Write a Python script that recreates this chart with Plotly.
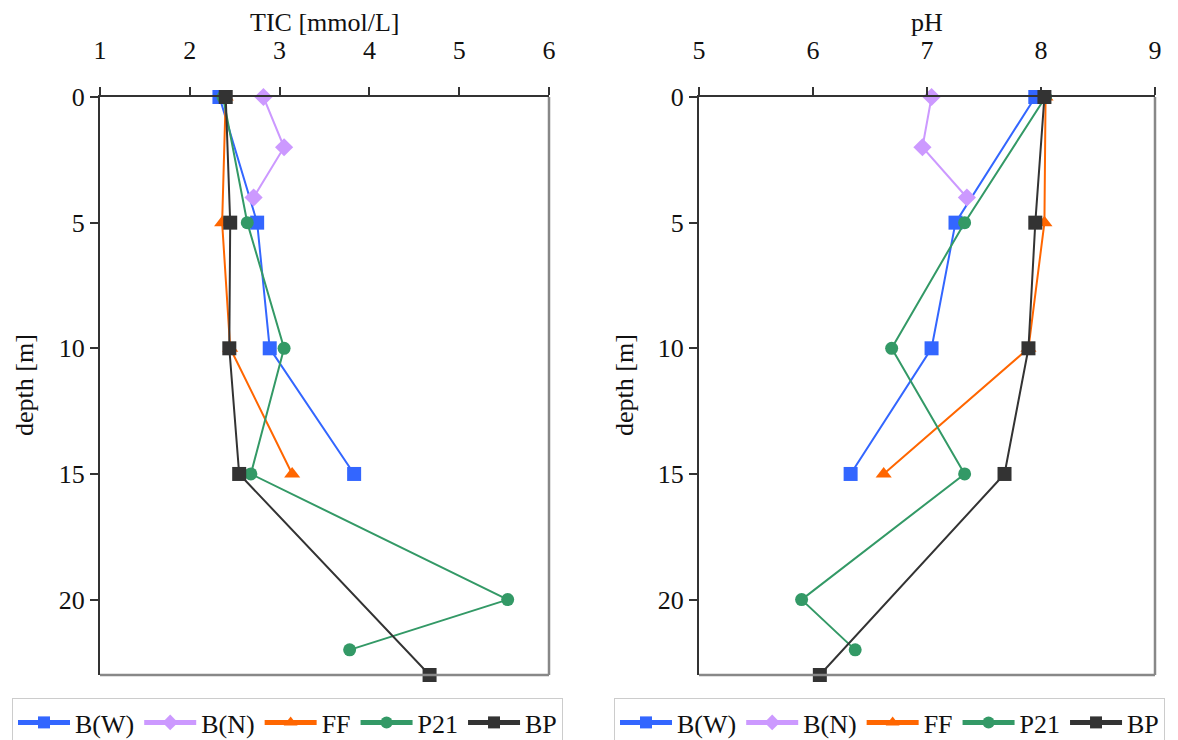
import plotly.graph_objects as go

series_names = ["B(W)", "B(N)", "FF", "P21", "BP"]
colors = ["#3366ff", "#cc99ff", "#ff6600", "#339966", "#333333"]
symbols = ["square", "diamond", "triangle-up", "circle", "square"]

depth_bw = [0, 5, 10, 15]
tic_bw = [2.33, 2.75, 2.89, 3.83]
ph_bw = [7.95, 7.25, 7.04, 6.33]

depth_bn = [0, 2, 4]
tic_bn = [2.82, 3.05, 2.71]
ph_bn = [7.04, 6.96, 7.35]

depth_ff = [0, 5, 10, 15]
tic_ff = [2.40, 2.36, 2.45, 3.14]
ph_ff = [8.04, 8.03, 7.89, 6.62]

depth_p21 = [0, 5, 10, 15, 20, 22]
tic_p21 = [2.37, 2.64, 3.05, 2.68, 5.54, 3.78]
ph_p21 = [8.04, 7.33, 6.69, 7.33, 5.90, 6.37]

depth_bp = [0, 5, 10, 15, 23]
tic_bp = [2.40, 2.45, 2.44, 2.55, 4.67]
ph_bp = [8.03, 7.95, 7.89, 7.68, 6.06]

depths = [depth_bw, depth_bn, depth_ff, depth_p21, depth_bp]
tics = [tic_bw, tic_bn, tic_ff, tic_p21, tic_bp]
phs = [ph_bw, ph_bn, ph_ff, ph_p21, ph_bp]

depth_ticks = [0, 5, 10, 15, 20]

FONT = "Liberation Serif, Times New Roman, serif"
FS = 26
W, H, OFF = 1170, 732, 8  # page body has an 8px margin


def px(p):
    return (p - OFF) / W


def py(p):
    return 1 - (p - OFF) / H


fig = go.Figure()

for i, name in enumerate(series_names):
    msize = 14 if symbols[i] in ("square", "diamond", "triangle-up") else 13
    fig.add_trace(go.Scatter(
        x=tics[i], y=depths[i], name=name, mode="lines+markers",
        line=dict(color=colors[i], width=2),
        marker=dict(symbol=symbols[i], size=msize, color=colors[i]),
        xaxis="x", yaxis="y", legend="legend", cliponaxis=False))
for i, name in enumerate(series_names):
    msize = 14 if symbols[i] in ("square", "diamond", "triangle-up") else 13
    fig.add_trace(go.Scatter(
        x=phs[i], y=depths[i], name=name, mode="lines+markers",
        line=dict(color=colors[i], width=2),
        marker=dict(symbol=symbols[i], size=msize, color=colors[i]),
        xaxis="x2", yaxis="y2", legend="legend2", cliponaxis=False))

ydom = [py(675), py(97)]
xd1 = [px(100), px(549)]
xd2 = [px(699), px(1155)]


def xax(dom, rng, anchor):
    return dict(domain=dom, range=rng, side="top", anchor=anchor, dtick=1,
                automargin=False, ticklabelstandoff=18,
                showgrid=False, zeroline=False, showline=True, linecolor="#333333",
                linewidth=2, ticks="outside", ticklen=8, tickcolor="#333333",
                tickwidth=1.5, tickfont=dict(size=FS, family=FONT, color="#111"))


def yax(rng, anchor):
    return dict(domain=ydom, range=rng, anchor=anchor, tickvals=depth_ticks,
                automargin=False,
                showgrid=False, zeroline=False, showline=True, linecolor="#333333",
                linewidth=2, ticks="outside", ticklen=8, tickcolor="#333333",
                tickwidth=1.5, tickfont=dict(size=FS, family=FONT, color="#111"))


legend_common = dict(orientation="h", yanchor="top", xanchor="left",
                     bordercolor="#cccccc", borderwidth=1, bgcolor="white",
                     font=dict(size=FS, family=FONT, color="#111"),
                     itemsizing="constant", itemwidth=52, tracegroupgap=0)

fig.update_layout(
    width=W, height=H, margin=dict(l=0, r=0, t=0, b=0, autoexpand=False),
    paper_bgcolor="white", plot_bgcolor="white",
    font=dict(family=FONT, color="#111"),
    xaxis=xax(xd1, [1, 6], "y"),
    yaxis=yax([23, 0], "x"),
    xaxis2=xax(xd2, [5, 9], "y2"),
    yaxis2=yax([23, 0], "x2"),
    legend=dict(x=px(12), y=py(698), **legend_common),
    legend2=dict(x=px(614), y=py(698), **legend_common),
)

# gray right/bottom frame
for xr, yr in (("x domain", "y domain"), ("x2 domain", "y2 domain")):
    fig.add_shape(type="line", xref=xr, yref=yr, x0=1, x1=1, y0=0, y1=1,
                  line=dict(color="#888888", width=2.5))
    fig.add_shape(type="line", xref=xr, yref=yr, x0=0, x1=1, y0=0, y1=0,
                  line=dict(color="#888888", width=2.5))

# titles
for txt, xc in (("TIC [mmol/L]", px(324)), ("pH", px(927))):
    fig.add_annotation(text=txt, xref="paper", yref="paper",
                       x=xc, y=py(23), xanchor="center", yanchor="middle",
                       showarrow=False, font=dict(size=FS, family=FONT, color="#111"))
for xc in (px(24), px(624)):
    fig.add_annotation(text="depth [m]", xref="paper", yref="paper",
                       x=xc, y=py(385), xanchor="center", yanchor="middle",
                       showarrow=False, textangle=-90,
                       font=dict(size=FS, family=FONT, color="#111"))

fig.write_html("out.html")
